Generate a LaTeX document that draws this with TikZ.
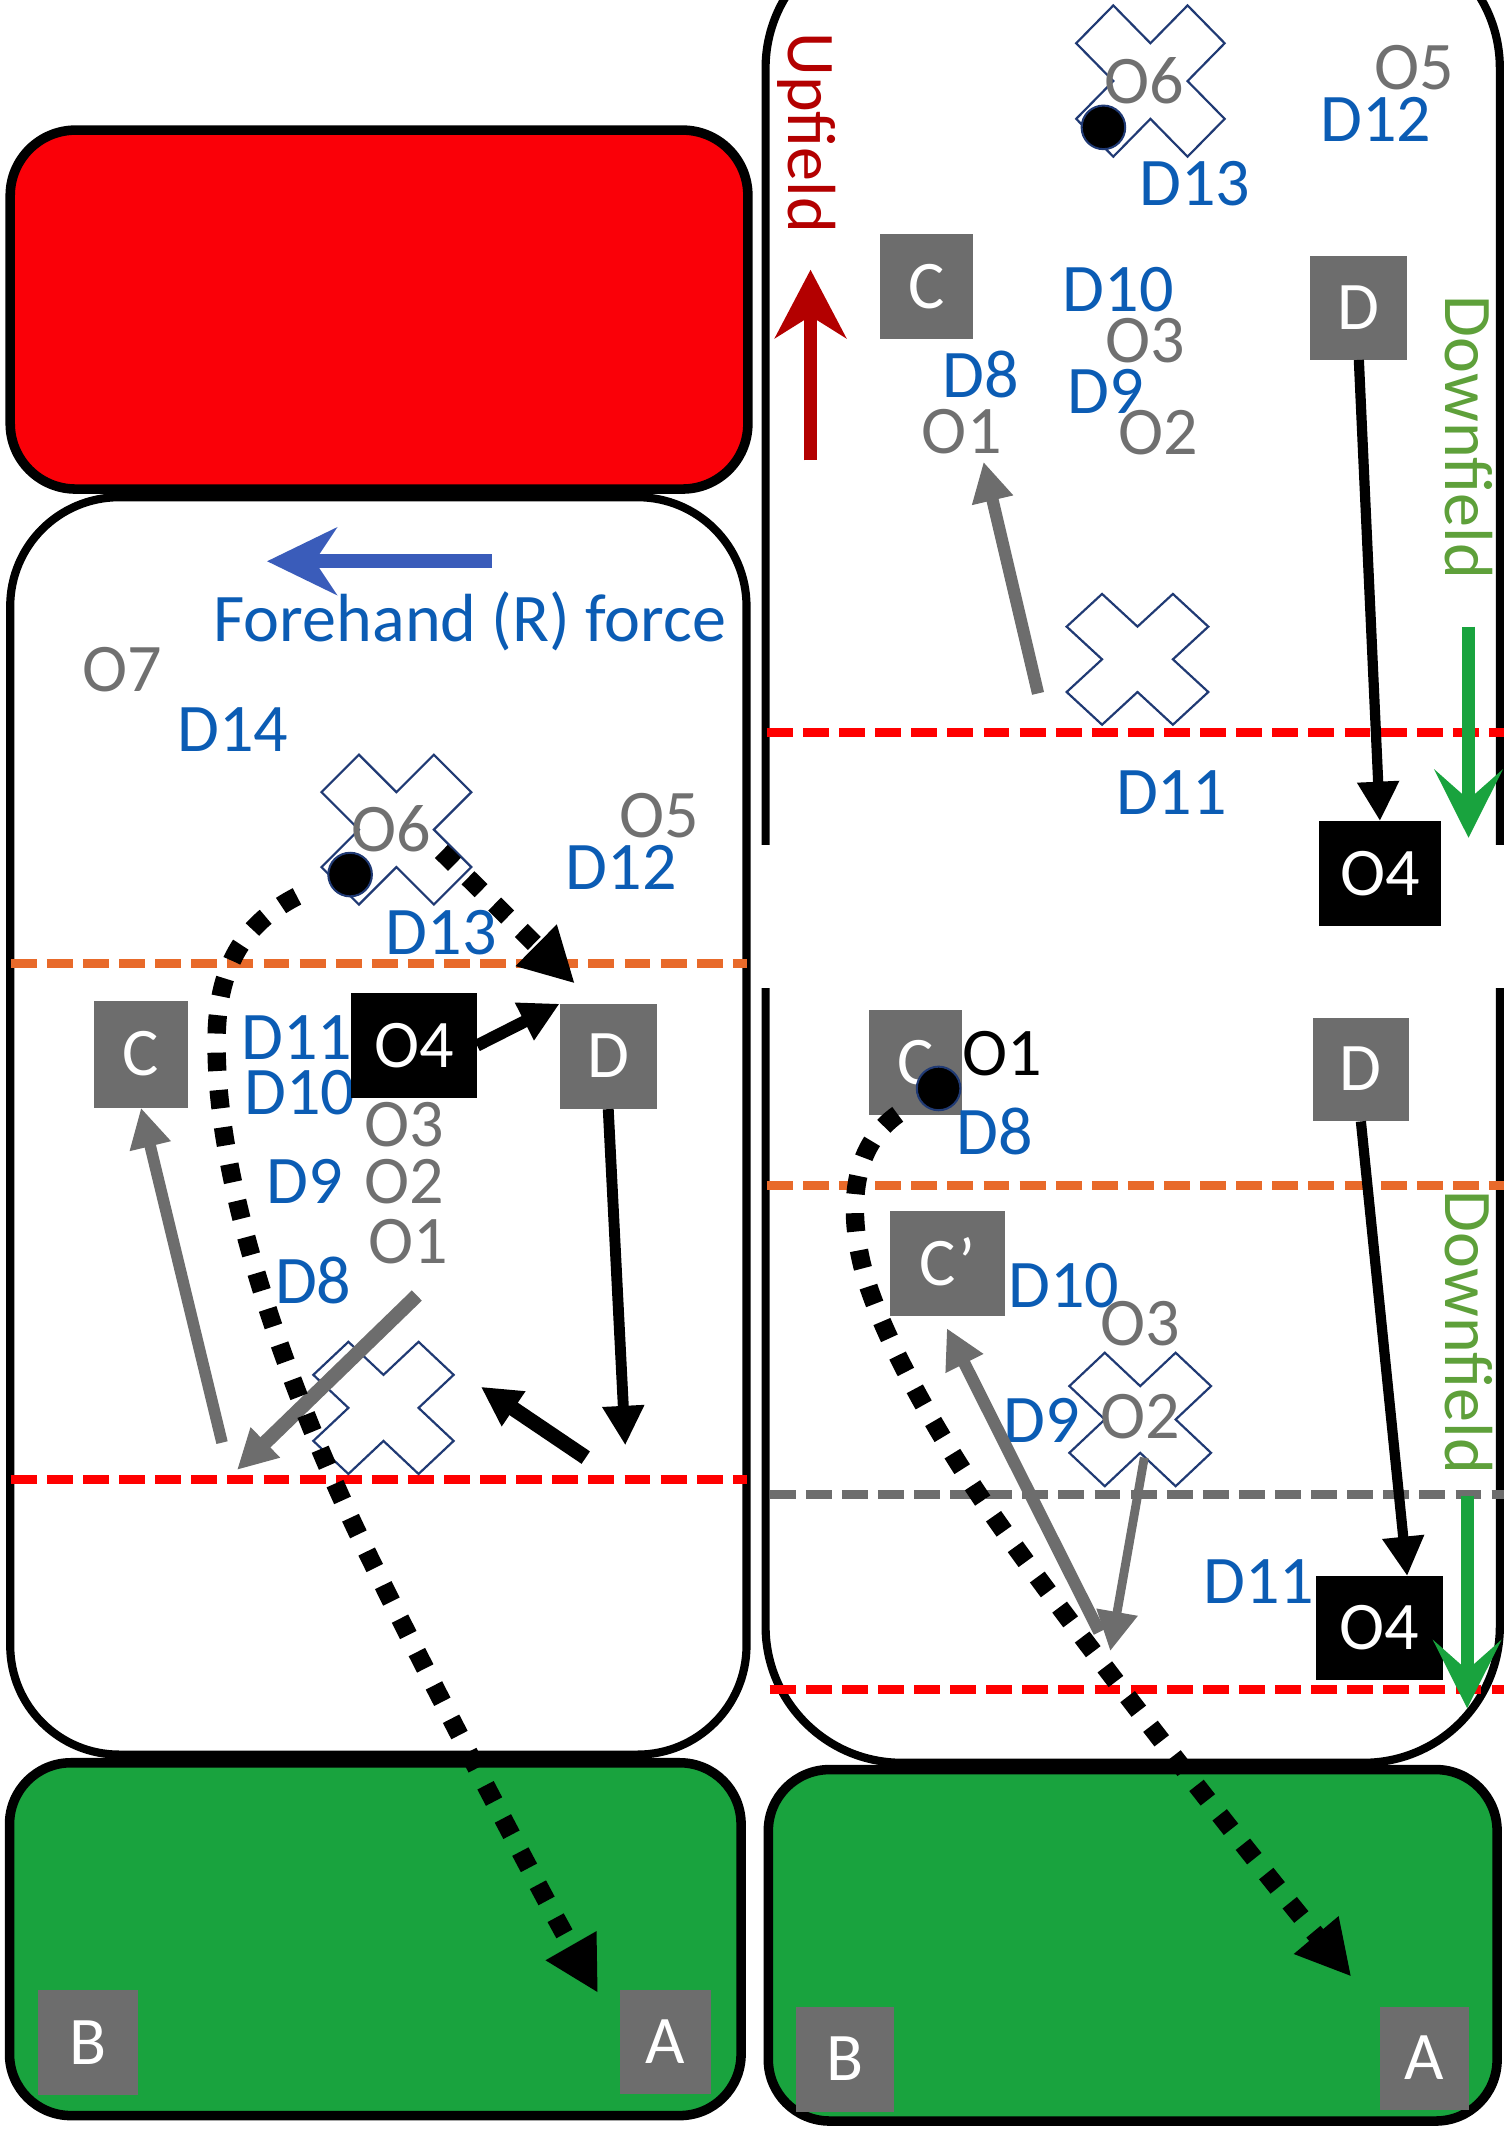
\documentclass[tikz,border=0pt]{standalone}
\usepackage{fontspec}
\setmainfont{Carlito}
\usetikzlibrary{arrows.meta}
\newcommand\labfont{\fontsize{50}{50}\selectfont}
\definecolor{tblue}{HTML}{0B5CB4}
\definecolor{tgray}{HTML}{707070}
\definecolor{bgray}{HTML}{6D6D6D}
\definecolor{xnavy}{HTML}{203A74}
\definecolor{fred}{HTML}{FA0008}
\definecolor{fgreen}{HTML}{19A33E}
\definecolor{dorange}{HTML}{E86A2A}
\definecolor{dred}{HTML}{FF0000}
\definecolor{upred}{HTML}{B30000}
\definecolor{dngreen}{HTML}{5EA03A}
\definecolor{arrblue}{HTML}{3A5CBA}
\begin{document}
\begin{tikzpicture}[x=1pt,y=-1pt,
  lab/.style={inner sep=0pt,font=\labfont,text height=31.6pt,text depth=0pt},
  bl/.style={lab,text=tblue},
  gr/.style={lab,text=tgray},
  sqbox/.style 2 args={lab,fill=bgray,text=white,minimum width=#1,minimum height=#2},
  blkbox/.style 2 args={lab,fill=black,text=white,minimum width=#1,minimum height=#2},
  dashline/.style={line width=6.5pt,dash pattern=on 19pt off 7.5pt},
  xline/.style={draw=xnavy,line width=1.6pt,line join=miter},
  blkarr/.style={draw=black,line width=#1,-{Triangle[length=29pt,width=29pt]}},
  grayarr/.style={draw=bgray,line width=#1,-{Triangle[length=29pt,width=29pt]}},
  dotarr/.style={draw=black,line width=13.5pt,dash pattern=on 13.5pt off 14pt,-{Triangle[length=40pt,width=40pt]}},
  ball/.style={circle,fill=black,draw=xnavy,line width=1.5pt,minimum size=32pt,inner sep=0pt},
  xmark/.pic={\draw[xline] (-0.5,-1)--(0,-0.5)--(0.5,-1)--(1,-0.5)--(0.5,0)--(1,0.5)--(0.5,1)--(0,0.5)--(-0.5,1)--(-1,0.5)--(-0.5,0)--(-1,-0.5)--cycle;}
]
\useasboundingbox (0,0) rectangle (1104,1568);
\fill[white] (0,0) rectangle (1104,1568);

% ---------------- left panel ----------------
\draw[line width=7pt,fill=fred,rounded corners=48pt] (7.5,95.5) rectangle (549,359);
\draw[line width=6pt,fill=white,rounded corners=80pt] (7.5,365) rectangle (548,1288);
\draw[line width=7pt,fill=fgreen,rounded corners=45pt] (7,1294) rectangle (544,1553);
\draw[dashline,draw=dorange] (8,707) -- (548,707);
\draw[dashline,draw=dred] (8,1086) -- (548,1086);

% ---------------- right panel ----------------
\draw[line width=6pt,rounded corners=100pt] (562,-50) rectangle (1101,1294);
\fill[white] (553,620) rectangle (1108,725);
\draw[line width=7pt,fill=fgreen,rounded corners=45pt] (564,1299) rectangle (1099,1557);
\draw[dashline,draw=dred] (563,538) -- (1104,538);
\draw[dashline,draw=dorange] (563,870) -- (1104,870);
\draw[dashline,draw=bgray] (565,1097) -- (1104,1097);
\draw[dashline,draw=dred] (565,1240) -- (1104,1240);

% ---------------- X marks ----------------
\pic[xscale=55,yscale=55] at (291,609) {xmark};
\pic[xscale=51.5,yscale=48.5] at (281.5,1033.5) {xmark};
\pic[xscale=54.5,yscale=55.5] at (844.5,59.5) {xmark};
\pic[xscale=52,yscale=48] at (835,484) {xmark};
\pic[xscale=52,yscale=49] at (837,1042) {xmark};

% ---------------- left labels ----------------
\node[bl] (fh) at (345,455) {Forehand (R) force};
\node[gr] (o7l) at (90,492) {O7};
\node[bl] (d14l) at (171,536) {D14};
\node[gr] (o6l) at (287,609) {O6};
\node[gr] (o5l) at (484,599) {O5};
\node[bl] (d12l) at (456,637) {D12};
\node[bl] (d13l) at (324,685) {D13};
\node[bl] (d11l) at (218,762) {D11};
\node[bl] (d10l) at (220,802) {D10};
\node[gr] (o3l) at (297,826) {O3};
\node[bl] (d9l) at (224,868) {D9};
\node[gr] (o2l) at (297,868) {O2};
\node[gr] (o1l) at (300,912) {O1};
\node[bl] (d8l) at (230,941) {D8};

\node[sqbox={69pt}{78pt}] (Cl) at (103.5,774) {C};
\node[blkbox={92pt}{77pt}] (O4l) at (304,767.5) {O4};
\node[sqbox={71pt}{77pt}] (Dl) at (446.5,775.5) {D};
\node[sqbox={67pt}{76pt}] (Al) at (488.5,1499) {A};
\node[sqbox={73pt}{77pt}] (Bl) at (64.5,1499.5) {B};

% ---------------- right labels ----------------
\node[rotate=-90,anchor=base west,inner sep=0pt,font=\labfont,text=upred] (upf) at (579,24) {Upfield};
\node[rotate=-90,anchor=base west,inner sep=0pt,font=\labfont,text=dngreen] (dnf1) at (1061,217) {Downfield};
\node[rotate=-90,anchor=base west,inner sep=0pt,font=\labfont,text=dngreen] (dnf2) at (1061,874) {Downfield};

\node[gr] (o6r) at (840,60) {O6};
\node[gr] (o5r) at (1038,50) {O5};
\node[bl] (d12r) at (1010,88) {D12};
\node[bl] (d13r) at (877,135) {D13};
\node[bl] (d10r) at (821,213) {D10};
\node[gr] (o3r) at (841,250) {O3};
\node[bl] (d8r) at (720,276) {D8};
\node[bl] (d9r) at (812,288) {D9};
\node[gr] (o1r) at (706,317) {O1};
\node[gr] (o2r) at (850,318) {O2};
\node[bl] (d11r) at (860,582) {D11};

\node[sqbox={68pt}{77pt}] (Cr1) at (680,210.5) {C};
\node[sqbox={71pt}{76pt}] (Dr1) at (997.5,226) {D};
\node[blkbox={90pt}{77pt}] (O4r1) at (1013,641.5) {O4};

\node[sqbox={68pt}{77pt}] (Cr2) at (672,780) {C};
\node[lab,text=black] (o1b) at (736,774) {O1};
\node[bl] (d8b) at (730.5,831.5) {D8};
\node[sqbox={70pt}{76pt}] (Dr2) at (999,785) {D};
\node[sqbox={85pt}{77pt}] (Cpr) at (695.5,927.5) {C’};
\node[bl] (d10b) at (781,944) {D10};
\node[gr] (o3b) at (837,972) {O3};
\node[bl] (d9b) at (765,1043) {D9};
\node[gr] (o2b) at (837,1040) {O2};
\node[bl] (d11b) at (924,1161) {D11};
\node[blkbox={93pt}{76pt}] (O4r2) at (1012.5,1195) {O4};
\node[sqbox={65pt}{76pt}] (Ar) at (1045.5,1511) {A};
\node[sqbox={72pt}{77pt}] (Br) at (620,1511.5) {B};

% ---------------- coordinates ----------------
\coordinate (fa1) at (361,412);
\coordinate (fa2) at (196,412);
\coordinate (od1) at (324,625);
\coordinate (od2) at (422,722);
\coordinate (dlE) at (459,1061);
\coordinate (s1) at (430,1070);
\coordinate (s2) at (353,1018);
\coordinate (gl1) at (163,1059);
\coordinate (gl2) at (306,951);
\coordinate (gl3) at (174,1079);
\coordinate (hl0) at (218,658);
\coordinate (hl1) at (159,770);
\coordinate (hl2) at (261,1122);
\coordinate (hl3) at (439,1463);
\coordinate (ua1) at (595,338);
\coordinate (ua2) at (595,198);
\coordinate (gr1) at (762,509);
\coordinate (gr2) at (722,339);
\coordinate (dg1) at (1078,460);
\coordinate (dg2) at (1078,615);
\coordinate (dg3) at (1077,1098);
\coordinate (dg4) at (1077,1254);
\coordinate (dbE) at (1033,1157);
\coordinate (gc1) at (807,1198);
\coordinate (gc2) at (695,975);
\coordinate (gd1) at (840,1070);
\coordinate (gd2) at (815,1212);
\coordinate (hr0) at (659,818);
\coordinate (hr1) at (632,925);
\coordinate (hr2) at (730,1114);
\coordinate (hr3) at (992,1451);

% ---------------- left arrows ----------------
\draw[draw=arrblue,line width=10pt,-{Stealth[length=51pt,width=49pt,inset=16pt]}] (fa1) -- (fa2);
\draw[dotarr] (od1) -- (od2);
\draw[blkarr=9pt] (O4l.east) -- (Dl.north west);
\draw[blkarr=8pt] (Dl.south) -- (dlE);
\draw[blkarr=11pt] (s1) -- (s2);
\draw[grayarr=8.5pt] (gl1) -- (Cl.south);
\draw[grayarr=10.5pt] (gl2) -- (gl3);
\draw[dotarr] (hl0) .. controls (175,680) and (158,715) .. (hl1)
  .. controls (160,880) and (216,1027) .. (hl2)
  .. controls (301,1206) and (399,1393) .. (hl3);

% ---------------- right arrows ----------------
\draw[draw=upred,line width=10pt,-{Stealth[length=50pt,width=52pt,inset=16pt]}] (ua1) -- (ua2);
\draw[grayarr=9pt] (gr1) -- (gr2);
\draw[blkarr=7.5pt] (Dr1.south) -- (O4r1.north);
\draw[draw=fgreen,line width=9.5pt,-{Stealth[length=50pt,width=50pt,inset=22pt]}] (dg1) -- (dg2);

\draw[blkarr=7.5pt] (Dr2.south) -- (dbE);
\draw[draw=fgreen,line width=9.5pt,-{Stealth[length=50pt,width=50pt,inset=22pt]}] (dg3) -- (dg4);
\draw[grayarr=9pt] (gc1) -- (gc2);
\draw[grayarr=6.5pt] (gd1) -- (gd2);
\draw[dotarr] (hr0) .. controls (628,840) and (622,880) .. (hr1)
  .. controls (643,975) and (690,1057) .. (hr2)
  .. controls (790,1200) and (932,1380) .. (hr3);

% ---------------- discs ----------------
\node[ball] (ballL) at (257,642) {};
\node[ball] (ballR1) at (810,93.5) {};
\node[ball] (ballR2) at (689,799) {};
\end{tikzpicture}
\end{document}
